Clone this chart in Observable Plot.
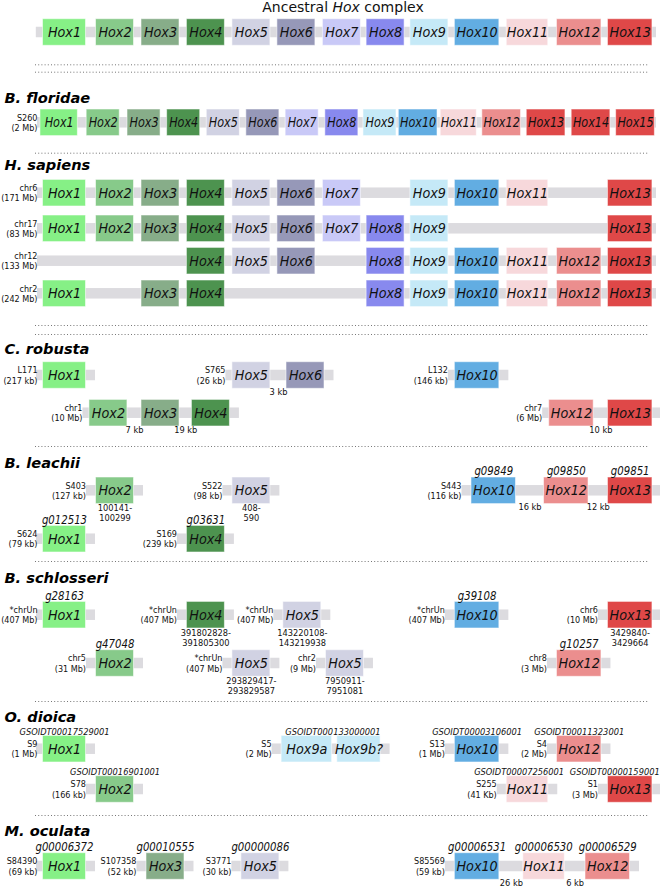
<!DOCTYPE html>
<html><head><meta charset="utf-8">
<script src="https://cdn.jsdelivr.net/npm/d3@7"></script>
<script src="https://cdn.jsdelivr.net/npm/@observablehq/plot@0.6"></script>
<style>
body{margin:0;background:#fff;}
#title{font-family:"DejaVu Sans";font-size:14px;line-height:14px;height:14px;width:660px;text-align:center;padding-left:26px;box-sizing:border-box;color:#111;white-space:nowrap;}
#chart{width:660px;height:872px;overflow:hidden;}
</style></head><body>
<div id="title">Ancestral <i>Hox</i> complex</div>
<div id="chart"></div>
<script>
// ---------------- data ----------------
const hoxNames = ["Hox1","Hox2","Hox3","Hox4","Hox5","Hox6","Hox7","Hox8","Hox9","Hox10","Hox11","Hox12","Hox13","Hox14","Hox15"];
const hoxColors = ["#86f086","#87ca8a","#87ad89","#4d934f","#d1d2e3","#9698b8","#c9c9f7","#8889ee","#c5e9f7","#62ade2","#f7d8db","#eb8e8e","#df4848","#df4848","#df4848"];

const speciesNames = ["B. floridae","H. sapiens","C. robusta","B. leachii","B. schlosseri","O. dioica","M. oculata"];

const ancestralGenes = ["Hox1","Hox2","Hox3","Hox4","Hox5","Hox6","Hox7","Hox8","Hox9","Hox10","Hox11","Hox12","Hox13"];

const floridaeScaffold = {name:"S260", size:"(2 Mb)"};
const floridaeGenes = ["Hox1","Hox2","Hox3","Hox4","Hox5","Hox6","Hox7","Hox8","Hox9","Hox10","Hox11","Hox12","Hox13","Hox14","Hox15"];

const sapiensChromosomes = ["chr6","chr17","chr12","chr2"];
const sapiensSizes = ["(171 Mb)","(83 Mb)","(133 Mb)","(242 Mb)"];
const sapiensGenes = [
  ["Hox1","Hox2","Hox3","Hox4","Hox5","Hox6","Hox7","Hox9","Hox10","Hox11","Hox13"],
  ["Hox1","Hox2","Hox3","Hox4","Hox5","Hox6","Hox7","Hox8","Hox9","Hox13"],
  ["Hox4","Hox5","Hox6","Hox8","Hox9","Hox10","Hox11","Hox12","Hox13"],
  ["Hox1","Hox3","Hox4","Hox8","Hox9","Hox10","Hox11","Hox12","Hox13"]
];

// slot = position along the ancestral cluster (1 = Hox1 column ... 13 = Hox13 column)
const robustaScaffolds = [
  {row:0, name:"L171", size:"(217 kb)", genes:["Hox1"], slots:[1]},
  {row:0, name:"S765", size:"(26 kb)", genes:["Hox5","Hox6"], slots:[5,6.2], gaps:["3 kb"]},
  {row:0, name:"L132", size:"(146 kb)", genes:["Hox10"], slots:[10]},
  {row:1, name:"chr1", size:"(10 Mb)", genes:["Hox2","Hox3","Hox4"], slots:[1.87,3,4.11], gaps:["7 kb","19 kb"]},
  {row:1, name:"chr7", size:"(6 Mb)", genes:["Hox12","Hox13"], slots:[11.85,13], gaps:["10 kb"]}
];
const leachiiScaffolds = [
  {row:0, name:"S403", size:"(127 kb)", genes:["Hox2"], slots:[2], coords:["100141-","100299"]},
  {row:0, name:"S522", size:"(98 kb)", genes:["Hox5"], slots:[5], coords:["408-","590"]},
  {row:0, name:"S443", size:"(116 kb)", genes:["Hox10","Hox12","Hox13"], slots:[10.33,11.75,13], ids:["g09849","g09850","g09851"], gaps:["16 kb","12 kb"]},
  {row:1, name:"S624", size:"(79 kb)", genes:["Hox1"], slots:[1], ids:["g012513"]},
  {row:1, name:"S169", size:"(239 kb)", genes:["Hox4"], slots:[4], ids:["g03631"]}
];
const schlosseriScaffolds = [
  {row:0, name:"*chrUn", size:"(407 Mb)", genes:["Hox1"], slots:[1], ids:["g28163"]},
  {row:0, name:"*chrUn", size:"(407 Mb)", genes:["Hox4"], slots:[4], coords:["391802828-","391805300"]},
  {row:0, name:"*chrUn", size:"(407 Mb)", genes:["Hox5"], slots:[6.13], coords:["143220108-","143219938"]},
  {row:0, name:"*chrUn", size:"(407 Mb)", genes:["Hox10"], slots:[10], ids:["g39108"]},
  {row:0, name:"chr6", size:"(10 Mb)", genes:["Hox13"], slots:[13], coords:["3429840-","3429664"]},
  {row:1, name:"chr5", size:"(31 Mb)", genes:["Hox2"], slots:[2], ids:["g47048"]},
  {row:1, name:"*chrUn", size:"(407 Mb)", genes:["Hox5"], slots:[5], coords:["293829417-","293829587"]},
  {row:1, name:"chr2", size:"(9 Mb)", genes:["Hox5"], slots:[7.07], coords:["7950911-","7951081"]},
  {row:1, name:"chr8", size:"(3 Mb)", genes:["Hox12"], slots:[12], ids:["g10257"]}
];
const dioicaScaffolds = [
  {row:0, name:"S9", size:"(1 Mb)", genes:["Hox1"], slots:[1], ids:["GSOIDT00017529001"]},
  {row:0, name:"S5", size:"(2 Mb)", genes:["Hox9a","Hox9b?"], slots:[6.23,7.39], ids:["GSOIDT000133000001"]},
  {row:0, name:"S13", size:"(1 Mb)", genes:["Hox10"], slots:[10], ids:["GSOIDT00003106001"]},
  {row:0, name:"S4", size:"(2 Mb)", genes:["Hox12"], slots:[12], ids:["GSOIDT00011323001"]},
  {row:1, name:"S78", size:"(166 kb)", genes:["Hox2"], slots:[2], ids:["GSOIDT00016901001"]},
  {row:1, name:"S255", size:"(41 Kb)", genes:["Hox11"], slots:[11], ids:["GSOIDT00007256001"]},
  {row:1, name:"S1", size:"(3 Mb)", genes:["Hox13"], slots:[13], ids:["GSOIDT00000159001"]}
];
const oculataScaffolds = [
  {row:0, name:"S84390", size:"(69 kb)", genes:["Hox1"], slots:[1], ids:["g00006372"]},
  {row:0, name:"S107358", size:"(52 kb)", genes:["Hox3"], slots:[3.11], ids:["g00010555"]},
  {row:0, name:"S3771", size:"(30 kb)", genes:["Hox5"], slots:[5.2], ids:["g00000086"]},
  {row:0, name:"S85569", size:"(59 kb)", genes:["Hox10","Hox11","Hox12"], slots:[10,11.32,12.56], ids:["g00006531","g00006530","g00006529"], gaps:["26 kb","6 kb"]}
];

// ---------------- layout ----------------
const colCenters = [64, 114.5, 160, 205.4, 250.9, 295.9, 341.4, 385.1, 428.9, 476.6, 527, 578.7, 629.7];
const slotToPx = d3.scaleLinear().domain(d3.range(1, 14)).range(colCenters);
const layout = {
  ancestral: {rows:[32]},
  floridae: {title:98.3, rows:[122.3]},
  sapiens: {title:165, rows:[192.7,228.3,260.7,293.3]},
  robusta: {title:349, rows:[375,412.7], pad:6.5},
  leachii: {title:462.7, rows:[490.3,538.7]},
  schlosseri: {title:578.3, rows:[614.7,663]},
  dioica: {title:716.7, rows:[748.7,789], small:true},
  oculata: {title:830.7, rows:[866]}
};
const dottedY = [64.3,71.7,152.7,325,334,446,561,701,815];
const BOX_H = 26.6, BAR_H = 10.5;

const colorOf = g => hoxColors[+g.match(/Hox(\d+)/)[1] - 1];
function boxW(g){
  const special = {"Hox1":43,"Hox11":41.5,"Hox9a":50.5,"Hox9b?":43.3};
  return special[g] ?? (g.length > 4 ? 44.5 : 38);
}

const bars = [], boxes = [], scafLabels = [], idLabels = [], smallIdLabels = [], belowLabels = [], titles = [];

function placeScaffold(sc, y, opt = {}) {
  const bx = sc.genes.map((g, i) => {
    const w = boxW(g) * (opt.wScale || 1);
    const xc = slotToPx(sc.slots[i]);
    return {gene: g, xc, x1: xc - w/2, x2: xc + w/2, y, fill: colorOf(g), narrow: !!opt.wScale};
  });
  const pad = opt.pad ?? 9.5;
  const left = opt.barX1 ?? Math.max(bx[0].x1 - pad, 36);
  const right = opt.barX2 ?? Math.min(bx[bx.length-1].x2 + 9.5, 660);
  bars.push({x1: left, x2: right, y});
  bx.forEach(b => boxes.push(b));
  if (sc.name) {
    const lx = Math.max(left - 0.5, 37);
    scafLabels.push({x: lx, y: y - 5.3, text: sc.name});
    scafLabels.push({x: lx, y: y + 5.2, text: sc.size});
  }
  const bottom = y + BOX_H/2;
  if (sc.ids) {
    const target = opt.small ? smallIdLabels : idLabels;
    const off = opt.small ? 4 : 6;
    if (sc.ids.length === bx.length) sc.ids.forEach((t, i) => target.push({x: bx[i].xc, y: y - BOX_H/2 - off, text: t, row: y}));
    else target.push({x: d3.mean(bx, b => b.xc), y: y - BOX_H/2 - off, text: sc.ids[0], row: y});
  }
  if (sc.coords) {
    const cx = d3.mean(bx, b => b.xc);
    belowLabels.push({x: cx, y: bottom + 4, text: sc.coords[0]});
    belowLabels.push({x: cx, y: bottom + 14, text: sc.coords[1]});
  }
  if (sc.gaps) sc.gaps.forEach((t, i) => belowLabels.push({x: (bx[i].x2 + bx[i+1].x1)/2, y: bottom + 3, text: t}));
}

// ancestral
placeScaffold({genes: ancestralGenes, slots: ancestralGenes.map((g, i) => i + 1)}, layout.ancestral.rows[0], {barX1: 35.8, barX2: 656});
// floridae: 15 genes packed evenly across the same span
titles.push({x: 4, y: layout.floridae.title, text: speciesNames[0]});
placeScaffold({name: floridaeScaffold.name, size: floridaeScaffold.size, genes: floridaeGenes,
  slots: floridaeGenes.map((g, i) => 0.894 + i * (13.104 - 0.894) / 14)}, layout.floridae.rows[0], {barX1: 37, barX2: 656, wScale: 0.87});
// sapiens
titles.push({x: 4, y: layout.sapiens.title, text: speciesNames[1]});
sapiensChromosomes.forEach((c, r) => placeScaffold({name: c, size: sapiensSizes[r], genes: sapiensGenes[r],
  slots: sapiensGenes[r].map(g => +g.slice(3))}, layout.sapiens.rows[r], {barX1: 37, barX2: 656}));
// tunicates
[["robusta", robustaScaffolds, 2], ["leachii", leachiiScaffolds, 3], ["schlosseri", schlosseriScaffolds, 4],
 ["dioica", dioicaScaffolds, 5], ["oculata", oculataScaffolds, 6]].forEach(([key, list, si]) => {
  const L = layout[key];
  titles.push({x: 4, y: L.title, text: speciesNames[si]});
  list.forEach(sc => placeScaffold(sc, L.rows[sc.row], {pad: L.pad, small: L.small}));
});

// keep ids inside the figure and apart from each other (right to left)
function declutter(list, charW) {
  d3.groups(list, d => d.row).forEach(([, items]) => {
    items.sort((a, b) => b.x - a.x);
    let limit = 659;
    items.forEach(d => {
      const half = d.text.length * charW / 2;
      if (d.x + half > limit) d.x = limit - half;
      limit = d.x - half - 6;
    });
  });
}
declutter(smallIdLabels, 5.27);
declutter(idLabels, 6.45);

const dotted = dottedY.map(y => ({y, x1: 35, x2: 648}));
const wideBoxes = boxes.filter(b => !b.narrow), narrowBoxes = boxes.filter(b => b.narrow);

// ---------------- plot ----------------
// text marks in order, each with its horizontal condensing factor (reference lettering is condensed)
const textMarks = [
  [Plot.text(wideBoxes, {x: "xc", y: "y", text: "gene", fontSize: 14.4, fontStyle: "italic", fill: "#111"}), 0.89],
  [Plot.text(narrowBoxes, {x: "xc", y: "y", text: "gene", fontSize: 14.2, fontStyle: "italic", fill: "#111"}), 0.79],
  [Plot.text(scafLabels, {x: "x", y: "y", text: "text", textAnchor: "end", fontSize: 9.4, fill: "#111"}), 0.86],
  [Plot.text(idLabels, {x: "x", y: "y", text: "text", fontSize: 11.4, fontStyle: "italic", fill: "#111"}), 0.89],
  [Plot.text(smallIdLabels, {x: "x", y: "y", text: "text", fontSize: 9.3, fontStyle: "italic", fill: "#111"}), 0.89],
  [Plot.text(belowLabels, {x: "x", y: "y", text: "text", fontSize: 9.4, fill: "#111"}), 0.88],
  [Plot.text(titles, {x: "x", y: "y", text: "text", textAnchor: "start", fontSize: 14.6, fontWeight: "bold", fontStyle: "italic", fill: "#000"}), 1]
];
const chart = Plot.plot({
  width: 660, height: 872, margin: 0,
  x: {type: "linear", domain: [0, 660], range: [0, 660], axis: null},
  y: {type: "linear", domain: [14, 886], range: [0, 872], axis: null},
  style: {fontFamily: "DejaVu Sans", color: "#111", background: "white"},
  marks: [
    Plot.ruleY(dotted, {y: "y", x1: "x1", x2: "x2", stroke: "#666", strokeWidth: 0.9, strokeDasharray: "1,2.2"}),
    Plot.rect(bars, {x1: "x1", x2: "x2", y1: d => d.y - BAR_H/2, y2: d => d.y + BAR_H/2, fill: "#dcdbdf"}),
    Plot.rect(boxes, {x1: "x1", x2: "x2", y1: d => d.y - BOX_H/2, y2: d => d.y + BOX_H/2, fill: "fill", stroke: "white", strokeOpacity: 0.55, strokeWidth: 1}),
    ...textMarks.map(d => d[0])
  ]
});
document.getElementById("chart").append(chart);
// apply condensing to each text mark group (in the same order as textMarks)
const groups = Array.from(chart.children).filter(el => el.tagName.toLowerCase() === "g" && el.getAttribute("aria-label") === "text");
groups.forEach((g, i) => {
  const k = textMarks[i] ? textMarks[i][1] : 1;
  if (k === 1) return;
  g.querySelectorAll("text").forEach(t => {
    const L = t.getComputedTextLength();
    if (L > 0) { t.setAttribute("textLength", (L * k).toFixed(2)); t.setAttribute("lengthAdjust", "spacingAndGlyphs"); }
  });
});
</script></body></html>
